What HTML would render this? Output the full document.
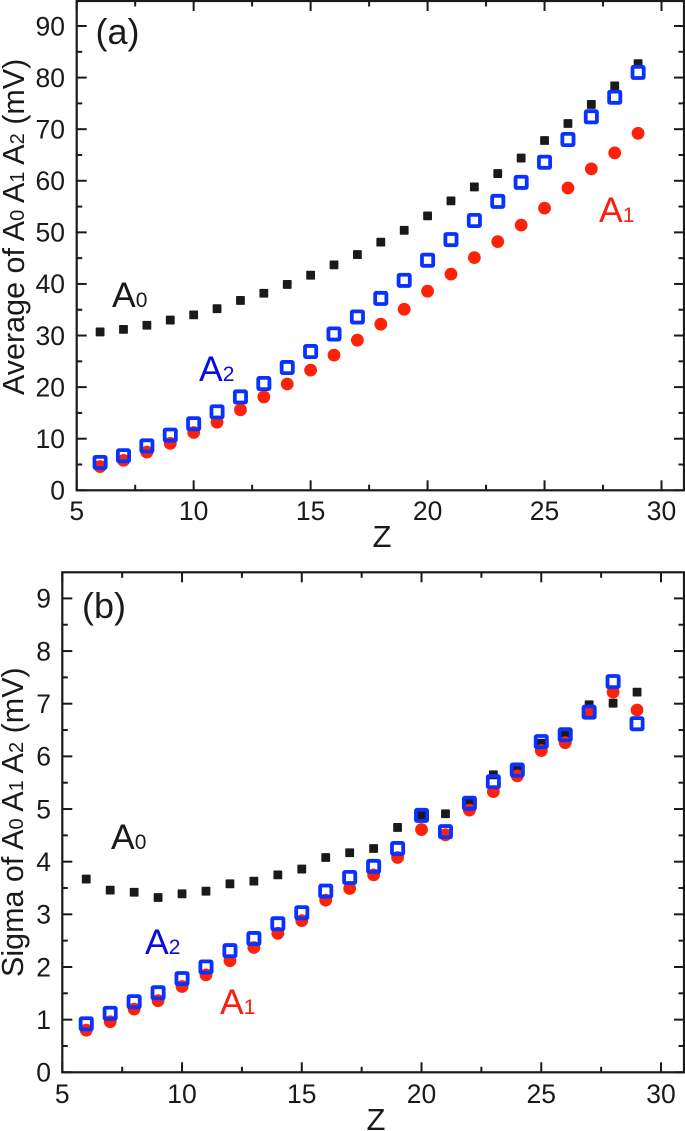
<!DOCTYPE html>
<html>
<head>
<meta charset="utf-8">
<style>
html,body{margin:0;padding:0;background:#fff;width:685px;height:1131px;overflow:hidden}
svg{display:block;font-family:"Liberation Sans",sans-serif}
</style>
</head>
<body>
<svg id="chart" width="685" height="1131" viewBox="0 0 685 1131" xmlns="http://www.w3.org/2000/svg">
  <text x="95.5" y="44" font-size="36" fill="#1a1a1a">(a)</text>
  <text x="82" y="618" font-size="36" fill="#1a1a1a">(b)</text>
  <text transform="translate(24,395) rotate(-90)" font-size="30.5" fill="#1a1a1a">Average of A<tspan font-size="20">0</tspan> A<tspan font-size="20">1</tspan> A<tspan font-size="20">2</tspan> (mV)</text>
  <text transform="translate(23,977) rotate(-90)" font-size="30.5" fill="#1a1a1a">Sigma of A<tspan font-size="20">0</tspan> A<tspan font-size="20">1</tspan> A<tspan font-size="20">2</tspan> (mV)</text>
  <text x="382" y="547" text-anchor="middle" font-size="31" fill="#1a1a1a">Z</text>
  <text x="376" y="1130" text-anchor="middle" font-size="31" fill="#1a1a1a">Z</text>
  <g id="marks-a"></g>
  <g id="marks-b"></g>
  <g id="axes-a"></g>
  <g id="axes-b"></g>
  <text x="112" y="307" font-size="35.5" fill="#1a1a1a">A<tspan font-size="21">0</tspan></text>
  <text x="599" y="222" font-size="35.5" fill="#f5200f">A<tspan font-size="21">1</tspan></text>
  <text x="199" y="381" font-size="35.5" fill="#0a0ae0">A<tspan font-size="21">2</tspan></text>
  <text x="111" y="849" font-size="35.5" fill="#1a1a1a">A<tspan font-size="21">0</tspan></text>
  <text x="220" y="1014" font-size="35.5" fill="#f5200f">A<tspan font-size="21">1</tspan></text>
  <text x="145" y="954" font-size="35.5" fill="#0a0ae0">A<tspan font-size="21">2</tspan></text>
</svg>
<script>
var zValues = [6,7,8,9,10,11,12,13,14,15,16,17,18,19,20,21,22,23,24,25,26,27,28,29];
var xTicks = [5,10,15,20,25,30];
var xMinorTicks = [7.5,12.5,17.5,22.5,27.5];
var yTicksA = [0,10,20,30,40,50,60,70,80,90];
var yMinorTicksA = [5,15,25,35,45,55,65,75,85];
var yTicksB = [0,1,2,3,4,5,6,7,8,9];
var yMinorTicksB = [0.5,1.5,2.5,3.5,4.5,5.5,6.5,7.5,8.5];
var avgA0 = [30.7,31.2,32,33,34,35.2,36.8,38.2,39.9,41.7,43.7,45.7,48.1,50.4,53.2,56.1,58.8,61.4,64.4,67.8,71.1,74.8,78.4,82.7];
var avgA1 = [4.6,5.8,7.4,9.1,11.2,13.2,15.6,18.1,20.6,23.3,26.2,29.1,32.2,35.1,38.6,41.9,45.1,48.2,51.4,54.7,58.6,62.3,65.4,69.2];
var avgA2 = [5.4,6.7,8.6,10.7,12.9,15.2,18.1,20.7,23.8,26.9,30.3,33.6,37.2,40.7,44.6,48.6,52.3,56,59.7,63.6,68,72.4,76.2,81];
var sigmaA0 = [3.67,3.46,3.42,3.32,3.39,3.44,3.58,3.63,3.75,3.86,4.08,4.17,4.25,4.65,4.88,4.91,5.1,5.65,5.75,6.25,6.42,6.98,7.01,7.22];
var sigmaA1 = [0.8,0.96,1.2,1.36,1.63,1.85,2.12,2.37,2.64,2.88,3.27,3.49,3.75,4.08,4.61,4.51,4.98,5.33,5.63,6.11,6.26,6.85,7.22,6.88];
var sigmaA2 = [0.92,1.12,1.34,1.51,1.78,2,2.31,2.54,2.82,3.03,3.44,3.7,3.91,4.25,4.88,4.57,5.11,5.52,5.74,6.28,6.41,6.84,7.42,6.62];

var NS = 'http://www.w3.org/2000/svg';
var INK = '#1a1a1a';

function make(parent, tag, attrs) {
  var el = document.createElementNS(NS, tag);
  for (var k in attrs) el.setAttribute(k, attrs[k]);
  parent.appendChild(el);
  return el;
}
function tickLine(g, x1, y1, x2, y2, name) {
  var el = make(g, 'line', {x1:x1, y1:y1, x2:x2, y2:y2, stroke:INK, 'stroke-width':2});
  
  
}
function drawAxes(g, sx, sy, box, yTicks, yMinor, labelRight, xLabelBase) {
  var frame = make(g, 'rect', {x:box.l, y:box.t, width:box.r-box.l, height:box.b-box.t, fill:'none', stroke:INK, 'stroke-width':2.2});
  
  
  xTicks.forEach(function (v) {
    tickLine(g, sx(v), box.b, sx(v), box.b-10, 'x-tick');
    tickLine(g, sx(v), box.t, sx(v), box.t+10, 'x-tick-top');
    var t = make(g, 'text', {x:sx(v), y:xLabelBase, 'text-anchor':'middle', 'font-size':26.5, fill:INK});
    
    
    t.textContent = v;
  });
  xMinorTicks.forEach(function (v) {
    tickLine(g, sx(v), box.b, sx(v), box.b-5.5, 'x-minor-tick');
    tickLine(g, sx(v), box.t, sx(v), box.t+5.5, 'x-minor-tick-top');
  });
  yTicks.forEach(function (v) {
    tickLine(g, box.l, sy(v), box.l+10, sy(v), 'y-tick');
    tickLine(g, box.r, sy(v), box.r-10, sy(v), 'y-tick-right');
    var t = make(g, 'text', {x:labelRight, y:sy(v)+9.3, 'text-anchor':'end', 'font-size':26.5, fill:INK});
    
    
    t.textContent = v;
  });
  yMinor.forEach(function (v) {
    tickLine(g, box.l, sy(v), box.l+5.5, sy(v), 'y-minor-tick');
    tickLine(g, box.r, sy(v), box.r-5.5, sy(v), 'y-minor-tick-right');
  });
}
function drawMarks(g, sx, sy, a0, a1, a2) {
  zValues.forEach(function (z, i) {
    var el = make(g, 'rect', {x:sx(z)-4.4, y:sy(a0[i])-4.4, width:8.8, height:8.8, rx:0.8, fill:INK});
    
    
  });
  zValues.forEach(function (z, i) {
    var el = make(g, 'circle', {cx:sx(z), cy:sy(a1[i]), r:6.4, fill:'#ff2209'});
    
    
  });
  zValues.forEach(function (z, i) {
    var el = make(g, 'rect', {x:sx(z)-5.6, y:sy(a2[i])-5.6, width:11.2, height:11.2, rx:1, fill:'none', stroke:'#0a32ff', 'stroke-width':3.8});
    
    
  });
}
function linearScale(d0, d1, r0, r1) {
  return function (v) { return r0 + (v - d0) * (r1 - r0) / (d1 - d0); };
}

var sxA = linearScale(5, 30, 76.7, 661.5);
var syA = linearScale(0, 90, 490.3, 26);
var sxB = linearScale(5, 30, 62.3, 661);
var syB = linearScale(0, 9, 1072.3, 598.4);

drawMarks(document.getElementById('marks-a'), sxA, syA, avgA0, avgA1, avgA2);
drawMarks(document.getElementById('marks-b'), sxB, syB, sigmaA0, sigmaA1, sigmaA2);
drawAxes(document.getElementById('axes-a'), sxA, syA, {l:76.7, r:684, t:1, b:490.3}, yTicksA, yMinorTicksA, 65, 520);
drawAxes(document.getElementById('axes-b'), sxB, syB, {l:62.3, r:684, t:572.3, b:1072.3}, yTicksB, yMinorTicksB, 51, 1103);
</script>
</body>
</html>
